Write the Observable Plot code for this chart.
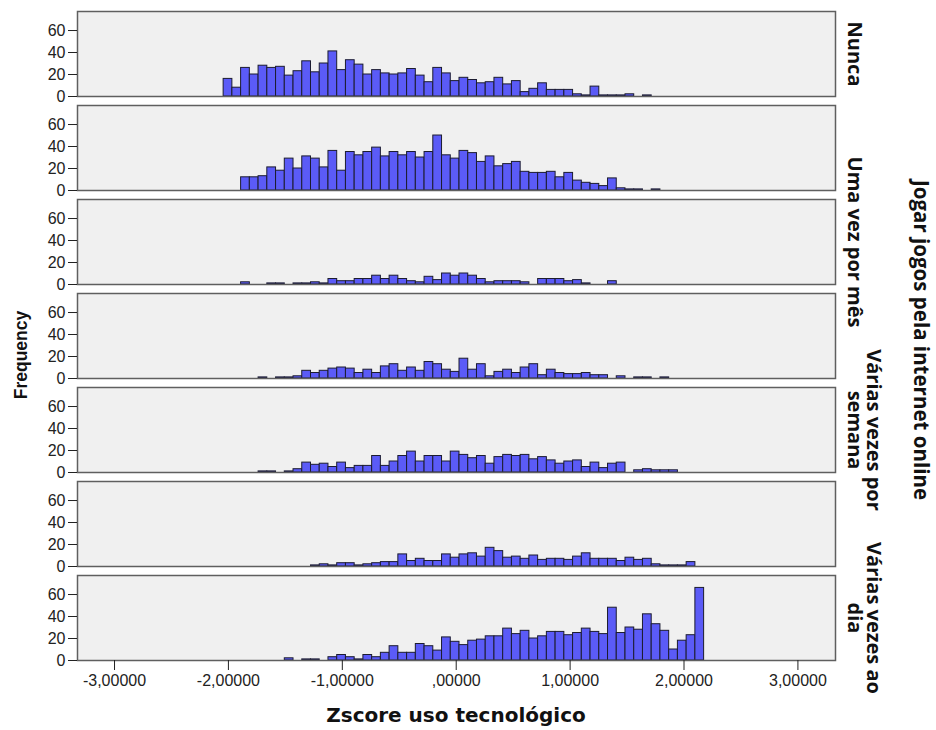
<!DOCTYPE html>
<html><head><meta charset="utf-8">
<script src="https://cdn.jsdelivr.net/npm/d3@7"></script>
<script src="https://cdn.jsdelivr.net/npm/@observablehq/plot@0.6"></script>
<style>
body{margin:0;background:#fff;font-family:"Liberation Sans",Arial,sans-serif;}
#wrap{position:relative;width:936px;height:730px;}
.t{position:absolute;font-weight:bold;color:#111;white-space:nowrap;transform-origin:center center;}
</style></head><body><div id="wrap"></div>
<script>
// Facet (panel) labels, top to bottom; SPSS only printed every other label
const facetLabels = ["Nunca", "", "Uma vez por mês", "", "Várias vezes por\nsemana", "", "Várias vezes ao\ndia"];
const xTitle = "Zscore uso tecnológico";
const yTitle = "Frequency";
const facetTitle = "Jogar jogos pela internet online";

// Histogram bins (z-score), shared by all panels
const binStart = -2.042;
const binWidth = 0.0767;
// first bin index of each panel's count list
const startBins = [0, 2, 2, 4, 4, 10, 7];

const countsNunca = [16,8,26,20,28,26,27,19,23,32,22,30,41,24,33,29,20,24,21,20,21,25,19,13,26,21,14,17,15,12,13,17,11,14,4,7,12,6,6,6,2,1,9,1,1,1,2,0,1];
const countsP2 = [12,12,13,21,18,29,20,31,29,21,36,18,35,32,35,39,31,35,32,35,30,35,50,32,29,36,34,26,31,22,24,26,17,16,16,17,12,16,9,7,6,4,11,2,1,1,0,1];
const countsUmaVezMes = [2,0,0,1,1,0,1,1,2,1,5,3,3,5,5,8,5,8,5,3,2,7,4,10,8,10,8,5,2,3,3,3,2,0,5,5,5,3,4,1,0,0,3];
const countsP4 = [1,0,1,1,2,7,5,7,9,10,9,5,8,5,11,13,7,10,7,15,13,8,6,18,8,13,2,6,8,5,10,13,3,8,5,4,4,5,3,3,0,2,0,1,1,0,1];
const countsVariasSemana = [1,1,0,1,3,9,7,8,5,9,4,6,6,15,6,10,15,19,10,15,15,10,19,16,13,15,8,14,16,15,16,12,14,11,8,10,11,5,9,4,8,9,0,2,3,2,2,2];
const countsP6 = [1,2,1,3,3,1,2,3,4,4,11,5,7,5,5,11,8,11,12,9,17,14,8,9,7,10,6,7,7,6,9,12,7,7,7,5,8,6,7,2,1,1,1,4];
const countsVariasDia = [2,0,1,1,0,3,5,3,1,5,3,7,13,7,7,15,13,9,21,17,14,18,19,22,22,29,24,27,20,22,26,26,23,25,29,26,24,48,25,30,28,42,33,27,10,18,23,66];
const panelCounts = [countsNunca, countsP2, countsUmaVezMes, countsP4, countsVariasSemana, countsP6, countsVariasDia];

const xTicks = [-3, -2, -1, 0, 1, 2, 3];
const xTickLabels = ["-3,00000", "-2,00000", "-1,00000", ",00000", "1,00000", "2,00000", "3,00000"];
const yTicks = [0, 20, 40, 60];

const rows = [];
panelCounts.forEach((arr, p) => {
  arr.forEach((c, j) => {
    if (c > 0) {
      const b = startBins[p] + j;
      rows.push({panel: p, x1: binStart + b * binWidth, x2: binStart + (b + 1) * binWidth, count: c});
    }
  });
});
const labelRows = facetLabels.map((label, panel) => ({panel, label})).filter(d => d.label);

const plot = Plot.plot({
  width: 936, height: 726,
  marginLeft: 77, marginRight: 101, marginTop: 10, marginBottom: 65,
  x: {domain: [-3.325, 3.33]},
  y: {domain: [0, 77.3]},
  fy: {domain: d3.range(7), paddingInner: 0.1, paddingOuter: 0, axis: null},
  style: {fontFamily: "'Liberation Sans', Arial, sans-serif", fontSize: "16px", color: "#222", background: "white", overflow: "visible"},
  marks: [
    Plot.frame({fill: "#f0f0f0"}),
    Plot.rect(rows, {x1: "x1", x2: "x2", y1: 0, y2: "count", fy: "panel", fill: "#5b5bf7", stroke: "#1c1c30", strokeWidth: 1}),
    Plot.frame({stroke: "#5f5f5f", strokeWidth: 1.5}),
    Plot.axisY({ticks: yTicks, tickSize: 9, tickPadding: 3, label: null, tickFormat: d => String(d), fontSize: 16}),
    Plot.axisX({ticks: xTicks, tickFormat: d => xTickLabels[xTicks.indexOf(d)], tickSize: 10, tickPadding: 4, label: null, fontSize: 16}),
    Plot.text(labelRows, {fy: "panel", text: "label", frameAnchor: "right", rotate: 90, dx: 12, lineAnchor: "bottom", textAnchor: "middle", fontWeight: "bold", fontSize: 20, lineHeight: 0.95, fontFamily: "'Open Sans', sans-serif", fill: "#111"})
  ]
});
const wrap = document.getElementById("wrap");
wrap.appendChild(plot);

function addTitle(text, x, y, rot, font, size) {
  const d = document.createElement("div");
  d.className = "t";
  d.textContent = text;
  d.style.fontFamily = font;
  d.style.fontSize = size + "px";
  d.style.left = x + "px";
  d.style.top = y + "px";
  d.style.transform = `translate(-50%,-50%) rotate(${rot}deg)`;
  wrap.appendChild(d);
}
addTitle(yTitle, 21, 355, -90, "'Liberation Sans', Arial, sans-serif", 17.5);
addTitle(facetTitle, 922, 340, 90, "'Open Sans', sans-serif", 20.5);
addTitle(xTitle, 456, 715, 0, "'DejaVu Sans', sans-serif", 20);
</script></body></html>
